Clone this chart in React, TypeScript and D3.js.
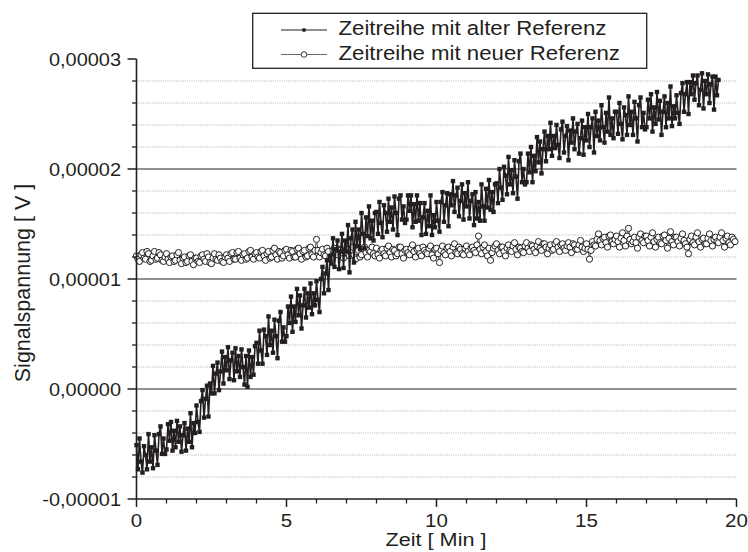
import React from "react";
import * as d3 from "d3";

// sampling interval of both time series (minutes)
const SAMPLE_STEP_MIN = 0.05;
// values in microvolt (1e-6 V), one row per minute
const oldRefMicroVolt = [
  -5.1, -7.3, -4.5, -6.6, -7.6, -5.2, -6.0, -7.3, -4.1, -6.6, -5.3, -7.2, -4.2, -5.6, -6.9, -4.1, -3.4, -5.9, -4.5, -5.9,
  -5.5, -3.2, -4.7, -3.0, -5.6, -3.8, -5.3, -2.9, -4.8, -3.4, -5.7, -4.2, -3.1, -5.6, -3.6, -4.8, -2.2, -5.3, -3.1, -4.0,
  -1.5, -3.0, -3.9, -1.1, -0.1, -2.6, -0.9, 0.3, -2.5, 0.5, -0.4, 2.1, -0.4, 1.4, 2.4, -0.1, 1.6, 3.4, 0.5, 2.9,
  1.7, 3.8, 0.9, 2.6, 3.3, 0.8, 3.7, 1.6, 3.0, 1.1, 3.6, 2.0, 0.4, 3.0, 0.2, 3.5, 1.1, 2.9, 1.3, 3.9,
  4.2, 2.3, 5.3, 3.5, 2.3, 5.4, 4.8, 3.1, 6.6, 4.0, 5.3, 3.3, 6.3, 4.8, 2.8, 6.2, 7.0, 4.3, 5.6, 4.3,
  4.8, 7.5, 6.0, 8.4, 5.2, 7.5, 6.1, 9.1, 6.7, 8.5, 5.5, 7.6, 9.1, 6.5, 8.7, 7.4, 9.6, 6.8, 8.7, 7.6,
  9.8, 8.1, 7.0, 10.0, 11.1, 8.7, 10.5, 11.7, 9.0, 12.1, 11.4, 13.7, 11.1, 12.7, 13.5, 10.9, 12.5, 14.1, 11.0, 13.5,
  12.5, 14.9, 10.6, 13.7, 14.5, 11.5, 15.2, 13.0, 14.5, 12.7, 16.0, 14.1, 12.8, 15.6, 13.9, 16.6, 13.7, 15.3, 13.5, 16.0,
  16.1, 14.1, 17.0, 15.1, 13.8, 16.7, 16.0, 14.3, 17.3, 15.2, 16.5, 14.5, 17.5, 16.0, 14.0, 17.3, 17.6, 15.4, 16.6, 15.1,
  15.4, 17.6, 16.2, 17.6, 14.7, 16.8, 15.2, 17.6, 15.3, 16.9, 14.0, 15.6, 16.9, 14.1, 16.2, 14.8, 17.6, 14.0, 15.8, 14.7,
  17.0, 15.3, 14.3, 17.0, 17.9, 15.2, 16.7, 17.8, 14.8, 17.7, 16.7, 18.9, 16.1, 17.6, 18.3, 15.7, 17.1, 18.6, 15.4, 17.8,
  16.6, 18.8, 15.5, 17.1, 17.7, 14.9, 17.9, 15.5, 17.0, 15.3, 18.6, 16.6, 15.3, 18.2, 16.5, 19.0, 16.3, 17.9, 16.1, 18.6,
  18.7, 16.9, 20.0, 18.3, 17.2, 20.2, 19.4, 17.7, 21.1, 18.6, 19.9, 17.8, 20.8, 19.3, 17.3, 20.7, 21.4, 18.8, 20.0, 18.6,
  18.8, 21.4, 19.7, 22.0, 18.8, 21.2, 19.8, 22.9, 20.6, 22.5, 19.6, 21.8, 23.4, 20.7, 23.0, 21.8, 24.2, 21.2, 23.0, 21.9,
  24.0, 22.2, 21.0, 23.6, 24.3, 21.5, 23.0, 23.9, 20.8, 23.5, 22.4, 24.6, 21.8, 23.4, 24.1, 21.4, 22.8, 24.4, 21.3, 23.8,
  22.6, 25.0, 22.0, 23.8, 24.6, 21.5, 25.2, 23.0, 24.4, 22.6, 25.8, 23.8, 22.4, 25.1, 23.4, 26.5, 23.1, 24.6, 22.8, 25.2,
  25.2, 23.2, 26.0, 24.1, 22.7, 25.6, 24.9, 23.1, 26.6, 24.0, 25.2, 23.1, 26.1, 24.6, 22.5, 25.8, 26.5, 23.8, 25.1, 23.6,
  23.8, 26.3, 24.6, 26.8, 23.4, 25.6, 24.1, 27.0, 24.5, 26.2, 23.1, 25.2, 26.6, 23.8, 26.0, 24.6, 27.5, 23.9, 25.7, 24.6,
  26.7, 25.1, 24.1, 26.9, 27.8, 25.2, 26.8, 27.9, 25.0, 27.9, 26.8, 28.5, 26.3, 27.8, 28.5, 25.8, 27.2, 28.7, 25.5, 28.0,
  26.8, 28.6, 26.0, 27.7, 28.4, 25.4, 28.4, 26.7, 28.1,
];
const newRefMicroVolt = [
  12.1, 11.8, 11.6, 12.2, 12.4, 11.9, 11.8, 12.5, 12.3, 11.6, 11.7, 12.1, 12.5, 11.8, 11.9, 12.4, 12.2, 11.7, 11.6, 12.0,
  12.3, 11.8, 11.5, 12.0, 12.1, 11.6, 11.7, 12.2, 12.4, 11.7, 11.4, 11.9, 12.0, 11.5, 11.6, 12.1, 12.2, 11.6, 11.3, 11.9,
  11.9, 11.6, 11.5, 12.1, 12.2, 11.8, 11.6, 12.3, 12.0, 11.5, 11.4, 11.9, 12.3, 11.8, 11.7, 12.2, 11.9, 11.6, 11.5, 12.0,
  12.2, 11.9, 11.6, 12.3, 12.4, 11.8, 11.8, 12.4, 12.5, 11.9, 11.7, 12.2, 12.3, 11.8, 11.9, 12.5, 12.6, 12.0, 11.8, 12.3,
  12.4, 12.0, 11.9, 12.5, 12.6, 12.1, 11.7, 12.3, 12.5, 11.9, 12.0, 12.6, 12.8, 12.2, 11.8, 12.5, 12.4, 11.9, 12.1, 12.6,
  12.7, 12.2, 11.9, 12.6, 12.5, 12.0, 12.0, 12.7, 12.8, 12.3, 11.8, 12.5, 12.6, 12.0, 12.1, 12.8, 12.9, 12.2, 12.0, 12.6,
  13.6, 12.6, 12.0, 12.4, 12.7, 12.2, 12.1, 12.8, 12.5, 12.0, 11.9, 12.6, 12.8, 12.3, 12.2, 12.7, 12.6, 12.1, 11.9, 12.5,
  12.7, 12.3, 12.1, 12.6, 12.9, 12.2, 11.8, 12.5, 12.6, 12.0, 12.2, 12.8, 12.9, 12.4, 12.0, 12.6, 12.5, 12.9, 12.3, 12.1,
  12.8, 12.2, 11.9, 12.6, 12.7, 12.3, 12.1, 12.8, 13.0, 12.4, 12.0, 12.7, 12.6, 12.1, 12.3, 12.9, 12.9, 12.3, 11.9, 12.6,
  12.7, 12.4, 12.2, 12.8, 13.1, 12.5, 12.0, 12.7, 12.8, 12.3, 12.1, 12.9, 12.6, 12.4, 12.3, 12.8, 13.0, 12.2, 11.9, 12.7,
  12.8, 12.3, 11.5, 12.6, 13.0, 12.4, 12.2, 12.8, 12.9, 12.5, 12.1, 12.9, 13.2, 12.4, 12.3, 12.9, 12.7, 12.3, 12.2, 12.8,
  13.0, 12.5, 12.2, 12.8, 12.9, 12.6, 12.4, 13.1, 13.9, 12.7, 12.3, 12.9, 13.1, 12.5, 12.1, 12.8, 11.7, 12.4, 12.8, 13.0,
  13.2, 12.6, 12.3, 12.9, 12.9, 12.5, 12.1, 12.8, 13.1, 12.6, 12.5, 13.0, 13.3, 12.7, 12.2, 12.9, 12.8, 12.5, 12.4, 13.0,
  13.3, 12.8, 12.5, 13.1, 13.0, 12.7, 12.4, 13.0, 13.4, 12.8, 12.6, 13.2, 13.2, 12.9, 12.3, 12.8, 13.1, 12.6, 12.7, 13.2,
  13.4, 12.9, 12.5, 13.1, 13.2, 12.8, 12.6, 13.0, 13.3, 12.9, 12.4, 13.2, 13.1, 12.7, 12.7, 13.1, 13.5, 12.9, 12.5, 12.8,
  13.2, 12.7, 11.8, 12.6, 13.4, 13.1, 13.0, 13.6, 14.1, 13.5, 13.1, 13.7, 13.8, 13.3, 12.9, 13.9, 14.0, 13.4, 13.2, 13.6,
  13.9, 13.4, 12.9, 13.7, 14.2, 13.5, 13.0, 13.9, 14.6, 13.6, 13.2, 13.4, 13.8, 13.3, 12.8, 13.8, 14.1, 13.5, 13.3, 13.9,
  13.9, 13.5, 13.0, 13.8, 14.2, 13.4, 12.9, 13.6, 13.8, 13.3, 13.2, 13.9, 14.0, 13.5, 12.8, 13.7, 14.3, 13.4, 13.1, 13.8,
  13.8, 13.4, 13.0, 13.7, 14.1, 13.5, 13.2, 12.9, 12.3, 13.6, 13.9, 13.3, 13.1, 13.8, 14.2, 13.4, 12.9, 13.6, 13.7, 13.2,
  13.2, 13.7, 14.1, 13.5, 13.0, 13.6, 13.8, 13.4, 13.3, 13.8, 14.2, 13.5, 12.9, 13.7, 13.9, 13.3, 13.1, 13.8, 13.6, 13.4,
];

const xMajorTicks = [0, 5, 10, 15, 20];
const xMinorTicks = [1, 2, 3, 4, 6, 7, 8, 9, 11, 12, 13, 14, 16, 17, 18, 19];
const yMajorTicks = [-0.00001, 0, 0.00001, 0.00002, 0.00003];
const yMinorTicks = [
  -0.000008, -0.000006, -0.000004, -0.000002,
  0.000002, 0.000004, 0.000006, 0.000008,
  0.000012, 0.000014, 0.000016, 0.000018,
  0.000022, 0.000024, 0.000026, 0.000028,
];
const legendLabels = ["Zeitreihe mit alter Referenz", "Zeitreihe mit neuer Referenz"];
const xAxisTitle = "Zeit [ Min ]";
const yAxisTitle = "Signalspannung [ V ]";

const W = 748;
const H = 552;
const SX = 1.14; // horizontal glyph stretch of the reference
const FONT = "'Liberation Sans', Arial, Helvetica, sans-serif";
const INK = "#231f20";

type Pt = { t: number; v: number };

const toSeries = (arr: number[]): Pt[] =>
  arr.map((uv, i) => ({ t: i * SAMPLE_STEP_MIN, v: uv * 1e-6 }));

const oldSeries = toSeries(oldRefMicroVolt);
const newSeries = toSeries(newRefMicroVolt);

const locale = d3.formatLocale({
  decimal: ",",
  thousands: ".",
  grouping: [3],
  currency: ["", "€"],
  minus: "-",
});
const fmtY = locale.format(".5f");

function HText(props: {
  x: number;
  y: number;
  size: number;
  anchor?: string;
  children: React.ReactNode;
}) {
  const { x, y, size, anchor = "start", children } = props;
  return (
    <text
      transform={`translate(${x},${y}) scale(${SX},1)`}
      fontSize={size}
      textAnchor={anchor}
      fontFamily={FONT}
      fill={INK}
    >
      {children}
    </text>
  );
}

export default function App() {
  const x = d3.scaleLinear().domain([0, 20]).range([136.5, 736.5]);
  const y = d3.scaleLinear().domain([-0.00001, 0.00003]).range([499, 59]);

  const line = d3
    .line<Pt>()
    .x((d) => x(d.t))
    .y((d) => y(d.v));

  const x0 = x(0);
  const x1 = x(20);
  const yb = y(-0.00001);
  const sq = 4.4;

  return (
    <svg
      width={W}
      height={H}
      style={{ position: "absolute", left: 0, top: 0, background: "#fff" }}
    >
      <rect x={0} y={0} width={W} height={H} fill="#fff" />
      {/* minor grid */}
      {yMinorTicks.map((v) => (
        <line
          key={"gm" + v}
          x1={x0}
          x2={x1}
          y1={y(v)}
          y2={y(v)}
          stroke="#9a9a9a"
          strokeWidth={0.8}
          strokeDasharray="1,1.2"
        />
      ))}
      {/* major grid */}
      {yMajorTicks
        .filter((v) => v > -0.00001 && v < 0.00003)
        .map((v) => (
          <line
            key={"gM" + v}
            x1={x0}
            x2={x1}
            y1={y(v)}
            y2={y(v)}
            stroke="#6d6d6d"
            strokeWidth={1.3}
          />
        ))}

      {/* new reference series */}
      <path d={line(newSeries) || ""} fill="none" stroke="#4a4a4a" strokeWidth={1} />
      {newSeries.map((d, i) => (
        <circle
          key={"n" + i}
          cx={x(d.t)}
          cy={y(d.v)}
          r={3.1}
          fill="#fff"
          stroke={INK}
          strokeWidth={1}
        />
      ))}

      {/* old reference series */}
      <path d={line(oldSeries) || ""} fill="none" stroke={INK} strokeWidth={1.6} />
      {oldSeries.map((d, i) => (
        <rect
          key={"o" + i}
          x={x(d.t) - sq / 2}
          y={y(d.v) - sq / 2}
          width={sq}
          height={sq}
          fill={INK}
        />
      ))}

      {/* axes */}
      <line x1={x0} x2={x0} y1={y(0.00003)} y2={yb} stroke={INK} strokeWidth={1.6} />
      <line x1={x0} x2={x1} y1={yb} y2={yb} stroke={INK} strokeWidth={1.6} />
      {yMajorTicks.map((v) => (
        <line key={"yt" + v} x1={x0 - 9} x2={x0} y1={y(v)} y2={y(v)} stroke={INK} strokeWidth={1.5} />
      ))}
      {yMinorTicks.map((v) => (
        <line key={"ytm" + v} x1={x0 - 4.5} x2={x0} y1={y(v)} y2={y(v)} stroke={INK} strokeWidth={1.3} />
      ))}
      {xMajorTicks.map((v) => (
        <line key={"xt" + v} x1={x(v)} x2={x(v)} y1={yb} y2={yb + 8} stroke={INK} strokeWidth={1.5} />
      ))}
      {xMinorTicks.map((v) => (
        <line key={"xtm" + v} x1={x(v)} x2={x(v)} y1={yb} y2={yb + 4.5} stroke={INK} strokeWidth={1.3} />
      ))}

      {/* tick labels */}
      {yMajorTicks.map((v) => (
        <HText key={"yl" + v} x={121} y={y(v) + 7} size={17.5} anchor="end">
          {fmtY(v)}
        </HText>
      ))}
      {xMajorTicks.map((v) => (
        <HText key={"xl" + v} x={x(v)} y={527} size={18} anchor="middle">
          {String(v)}
        </HText>
      ))}

      {/* axis titles */}
      <HText x={436} y={546} size={19} anchor="middle">
        {xAxisTitle}
      </HText>
      <text
        transform={`translate(30,283) rotate(-90)`}
        fontSize={21.5}
        textAnchor="middle"
        fontFamily={FONT}
        fill={INK}
      >
        {yAxisTitle}
      </text>

      {/* legend */}
      <rect x={252.7} y={13.3} width={394} height={55} fill="#fff" stroke={INK} strokeWidth={1.3} />
      <line x1={281} x2={327} y1={30} y2={30} stroke={INK} strokeWidth={1} />
      <rect x={302.3} y={28.3} width={3.4} height={3.4} fill={INK} />
      <line x1={281} x2={327} y1={54.5} y2={54.5} stroke="#6a6a6a" strokeWidth={1} />
      <circle cx={304} cy={54.5} r={2.8} fill="#fff" stroke={INK} strokeWidth={0.9} />
      <HText x={338.5} y={35.3} size={19.5}>
        {legendLabels[0]}
      </HText>
      <HText x={338.5} y={59.8} size={19.5}>
        {legendLabels[1]}
      </HText>
    </svg>
  );
}
